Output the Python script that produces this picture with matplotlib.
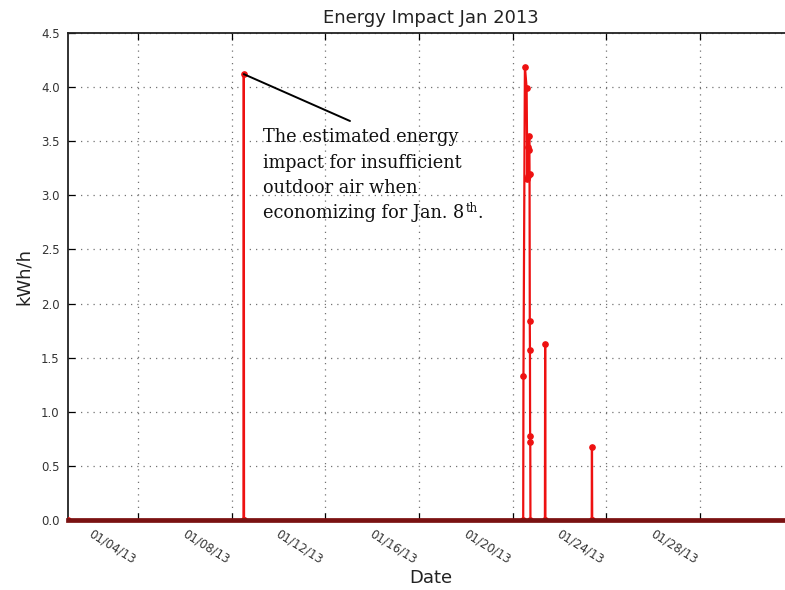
import matplotlib
matplotlib.use("Agg")
import matplotlib.pyplot as plt
import matplotlib.dates as mdates
import pandas as pd

# ---- data ----
timestamps = [
    "2013-01-01 00:00",
    "2013-01-08 12:00", "2013-01-08 12:15", "2013-01-08 12:30",
    "2013-01-20 10:45", "2013-01-20 11:00", "2013-01-20 12:30", "2013-01-20 14:15",
    "2013-01-20 15:00", "2013-01-20 15:30", "2013-01-20 16:00", "2013-01-20 16:30",
    "2013-01-20 17:00", "2013-01-20 17:15", "2013-01-20 17:30", "2013-01-20 17:40",
    "2013-01-20 17:50", "2013-01-20 18:00", "2013-01-20 18:10",
    "2013-01-21 09:00", "2013-01-21 09:15", "2013-01-21 09:30",
    "2013-01-23 09:00", "2013-01-23 09:15", "2013-01-23 09:30",
    "2013-02-01 00:00",
]
kwh = [
    0.0,
    0.0, 4.12, 0.0,
    0.0, 1.33, 4.19, 3.99,
    3.15, 3.45, 3.18, 3.42,
    3.55, 3.20, 1.84, 1.57,
    0.78, 0.72, 0.0,
    0.0, 1.63, 0.0,
    0.0, 0.67, 0.0,
    0.0,
]
tick_dates = ["2013-01-04", "2013-01-08", "2013-01-12", "2013-01-16",
              "2013-01-20", "2013-01-24", "2013-01-28"]
x_start, x_end = "2013-01-01", "2013-02-01"
y_ticks = [0.0, 0.5, 1.0, 1.5, 2.0, 2.5, 3.0, 3.5, 4.0, 4.5]
annot_point = ("2013-01-08 12:15", 4.12)
annot_lines = ["The estimated energy", "impact for insufficient",
               "outdoor air when", "economizing for Jan. 8"]
annot_sup = "th"
annot_end = "."

# ---- figure ----
W, H = 785, 590
fig = plt.figure(figsize=(W / 100, H / 100), dpi=100)
left, right, top, bottom = 68, 793.6, 33, 520
ax = fig.add_axes([left / W, 1 - bottom / H, (right - left) / W, (bottom - top) / H])

t = pd.to_datetime(timestamps)
ax.plot(t, kwh, color="#ee1111", lw=1.6, marker="o", ms=3.8,
        mec="#ee1111", mfc="#ee1111", zorder=3)

ax.set_xlim(pd.Timestamp(x_start), pd.Timestamp(x_end))
ax.set_ylim(0, 4.5)
ax.set_yticks(y_ticks)
ax.set_yticklabels([f"{v:.1f}" for v in y_ticks])
ax.set_xticks(pd.to_datetime(tick_dates))
ax.xaxis.set_major_formatter(mdates.DateFormatter("%m/%d/%y"))

for lbl in ax.get_xticklabels():
    lbl.set_rotation(-32)
    lbl.set_ha("right")

ax.grid(True, color="0.45", linestyle=(0, (1, 4)), lw=0.9)
ax.tick_params(axis="both", direction="in", length=5, width=0.9,
               top=True, right=True, colors="k", labelcolor="#333333")
ax.tick_params(axis="y", labelsize=8.5, pad=6)
ax.tick_params(axis="x", labelsize=8.5, pad=5)

for s in ax.spines.values():
    s.set_color("#222222")
    s.set_linewidth(1.3)
ax.spines["bottom"].set_color("#7a1212")
ax.spines["bottom"].set_linewidth(3.4)
ax.spines["bottom"].set_zorder(4)

ax.set_title("Energy Impact Jan 2013", fontsize=13, color="#222222", pad=7)
ax.set_xlabel("Date", fontsize=13, color="#222222", labelpad=2)
ax.set_ylabel("kWh/h", fontsize=13, color="#222222", labelpad=6)

# annotation line from point to text area
ax.annotate("", xy=(pd.Timestamp(annot_point[0]), annot_point[1]),
            xycoords="data", xytext=(350 / W, 1 - 121 / H),
            textcoords="figure fraction",
            arrowprops=dict(arrowstyle="-", color="k", lw=1.4,
                            shrinkA=0, shrinkB=0))

font_kw = dict(fontsize=12.8, family="DejaVu Serif", color="#111111")
baselines = [142, 167.5, 193, 218.5]
tx = 263
last = None
for line, yb in zip(annot_lines, baselines):
    last = fig.text(tx / W, 1 - yb / H, line, ha="left", va="baseline", **font_kw)

renderer = fig.canvas.get_renderer()
bb = last.get_window_extent(renderer)
x_sup = bb.x1 + 1
sup = fig.text(x_sup / W, 1 - (baselines[-1] - 6) / H, annot_sup, ha="left",
               va="baseline", fontsize=8.5, family="DejaVu Serif", color="#111111")
bb2 = sup.get_window_extent(renderer)
fig.text((bb2.x1 + 0.5) / W, 1 - baselines[-1] / H, annot_end, ha="left",
         va="baseline", **font_kw)

fig.savefig("out.png", dpi=100)
